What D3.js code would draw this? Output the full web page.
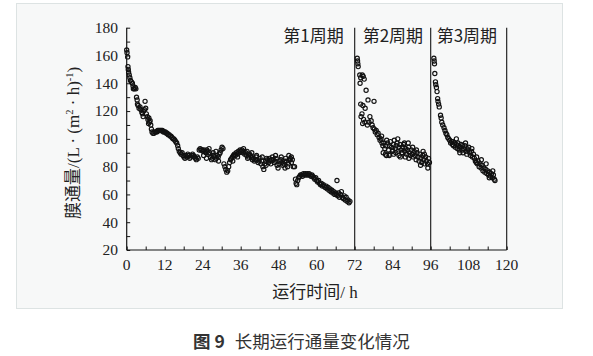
<!DOCTYPE html>
<html>
<head>
<meta charset="utf-8">
<script src="https://cdn.jsdelivr.net/npm/d3@7"></script>
<style>
  html, body { margin: 0; padding: 0; background: #ffffff; }
  svg { display: block; }
</style>
</head>
<body>
<svg id="chart" width="593" height="356"></svg>
<script>
// ---------------- DATA ----------------
const xTicks = [0, 12, 24, 36, 48, 60, 72, 84, 96, 108, 120];
const yTicks = [20, 40, 60, 80, 100, 120, 140, 160, 180];
const cycleBounds = [72, 96, 120];
const cycleLabels = ["第1周期", "第2周期", "第3周期"];

// Cycle 1 (h, flux)
const hours1 = [0.0,0.1,0.3,0.4,0.5,0.6,0.8,1.0,1.2,1.5,1.8,2.1,2.4,2.7,2.9,3.1,3.3,3.6,3.9,4.2,4.5,4.8,5.0,5.3,5.6,5.8,6.0,6.2,6.5,6.7,7.0,7.2,7.4,7.6,7.8,8.0,8.3,8.6,8.9,9.2,9.5,9.8,10.1,10.4,10.7,11.0,11.3,11.6,11.9,12.2,12.5,12.8,13.1,13.4,13.7,14.0,14.3,14.6,14.9,15.2,15.5,15.8,16.1,16.3,16.6,16.9,17.2,17.5,17.8,18.1,18.4,18.7,19.0,19.3,19.6,19.9,20.2,20.5,20.8,21.1,21.4,21.7,22.0,22.3,22.6,22.9,23.2,23.5,23.8,24.1,24.4,24.7,25.0,25.3,25.6,25.9,26.2,26.5,26.8,27.1,27.4,27.7,28.0,28.3,28.6,28.9,29.2,29.5,29.8,30.1,30.4,30.7,31.0,31.3,31.6,31.9,32.2,32.5,32.8,33.1,33.4,33.7,34.0,34.3,34.6,34.9,35.2,35.5,35.8,36.1,36.4,36.7,37.0,37.3,37.6,37.9,38.2,38.5,38.8,39.1,39.4,39.7,40.0,40.3,40.6,40.9,41.2,41.5,41.8,42.1,42.4,42.7,43.0,43.3,43.6,43.9,44.2,44.5,44.8,45.1,45.4,45.7,46.0,46.3,46.6,46.9,47.2,47.5,47.8,48.1,48.4,48.7,49.0,49.3,49.6,49.9,50.2,50.5,50.8,51.1,51.4,51.7,52.0,52.3,52.6,53.0,53.3,53.5,53.7,54.0,54.3,54.6,54.9,55.2,55.5,55.8,56.1,56.4,56.7,57.0,57.3,57.6,57.9,58.2,58.5,58.8,59.1,59.4,59.7,60.0,60.3,60.6,60.9,61.2,61.5,61.8,62.1,62.4,62.7,63.0,63.3,63.6,63.9,64.2,64.5,64.8,65.1,65.4,65.7,66.0,66.3,66.4,66.6,66.9,67.2,67.5,67.8,68.1,68.4,68.7,69.0,69.3,69.6,69.9,70.2,70.5,
  24.3,25.2,26.0,27.3,28.2,29.0,33.5,35.0,36.9,38.0,39.5,41.0,42.8,44.0,45.5,47.0,48.8,50.0,51.2,52.0,5.2,6.9,3.4,2.0];
const flux1 = [164,162,159,152,150,148,146,144,142,141,140,136,136,137,136,130,128,124,122,123,121,119,118,120,121,127,122,118,116,114,115,112,113,110,107,105,104,104,105,105,105,106,106,106,106,106,106,105,105,105,104,104,103,103,102,102,101,100,100,99,98,97,95,93,91,90,89,90,88,87,86,88,87,89,88,86,87,88,89,88,87,86,85,87,86,92,93,92,92,91,92,91,90,92,91,89,90,87,85,86,88,87,85,86,88,87,89,90,92,94,93,82,80,78,76,77,80,83,85,86,87,88,89,88,90,89,91,90,92,91,92,90,91,89,90,88,86,87,89,88,87,85,86,84,85,87,85,83,84,86,82,84,80,78,82,84,86,85,83,86,84,85,87,85,83,84,86,81,79,82,84,85,83,81,82,84,86,84,80,82,85,86,87,85,80,80,71,68,67,70,72,73,74,74,73,75,74,75,74,75,74,75,74,73,74,73,72,71,72,70,69,70,68,67,68,66,67,66,65,66,64,65,63,64,62,63,61,62,60,61,60,70,59,61,58,60,62,58,57,59,56,58,55,56,54,55,
  88,86,93,90,91,84,84,87,93,91,90,88,87,81,82,88,87,79,88,83,116,111,125,138];

// Cycle 2
const hours2 = [72.8,72.9,73.0,73.1,73.6,73.9,74.4,74.7,75.0,73.7,75.6,76.2,78.1,73.9,74.6,75.3,74.3,74.0,74.8,75.2,74.5,76.8,77.2,77.5,77.8,76.0,76.5,78.2,78.5,78.8,79.1,79.4,79.7,80.0,80.3,80.6,80.9,81.2,81.5,81.8,82.1,82.4,82.7,83.0,83.3,83.6,83.9,84.2,84.5,84.8,85.1,85.4,85.7,86.0,86.3,86.6,86.9,87.2,87.5,87.8,88.1,88.4,88.7,89.0,89.3,89.6,89.9,90.2,90.5,90.8,91.1,91.4,91.7,92.0,92.3,92.6,92.9,93.2,93.5,93.8,94.1,94.4,94.7,95.0,95.3,95.6,81.0,82.0,83.0,84.0,85.0,86.0,87.0,88.0,
  80.5,81.7,82.9,84.3,85.6,86.4,87.7,89.1,90.3,91.5,92.8,94.0,95.1,93.6,88.9];
const flux2 = [158,156,154,152,146,144,146,145,143,140,135,128,127,125,124,122,118,116,114,112,111,116,113,110,108,110,112,107,105,106,103,104,101,99,100,97,95,97,93,95,99,97,92,95,98,94,91,96,99,93,95,97,91,94,96,92,90,94,96,91,93,89,92,94,90,88,92,89,87,91,88,85,90,87,84,89,86,83,88,85,82,87,84,82,86,83,90,88,89,92,90,88,90,87,
  102,89,88,89,100,87,97,86,94,92,81,89,79,91,97];

// Cycle 3
const hours3 = [97.0,97.1,97.2,97.3,97.5,97.6,97.8,98.0,98.2,98.3,98.5,98.7,99.1,99.3,99.5,99.8,100.2,100.5,100.8,101.1,101.4,101.7,102.0,102.3,102.6,102.9,103.2,103.5,103.8,104.1,104.1,104.4,104.7,105.0,105.3,105.6,105.9,106.2,106.5,106.8,107.1,107.4,107.7,108.0,108.3,108.6,108.9,109.2,109.5,109.8,110.1,110.4,110.7,111.0,111.3,111.6,111.9,112.2,112.5,112.8,113.1,113.4,113.7,114.0,114.3,114.6,114.9,115.2,115.5,115.8,116.1,116.3,103.0,104.6,106.0,107.5,
  105.2,107.0,109.0,110.5,112.0,113.5,114.5,115.6];
const flux3 = [158,156,154,147,141,139,137,134,129,127,125,123,117,115,112,110,108,106,104,103,101,100,99,97,98,96,95,97,94,100,96,93,95,92,94,96,92,90,93,95,91,89,92,94,90,88,91,87,89,86,84,83,82,84,80,82,79,81,77,79,76,78,75,77,74,76,73,75,72,74,71,70,98,97,95,93,
  90,97,93,87,85,82,72,77];

// ---------------- DRAW ----------------
const svg = d3.select("#chart");
const serif = "'Liberation Serif','Times New Roman',serif";
const cjk = "'Noto Sans CJK SC','Noto Sans',sans-serif";

svg.append("rect").attr("x", 0).attr("y", 0).attr("width", 593).attr("height", 356).attr("fill", "#ffffff");
svg.append("rect").attr("x", 16.5).attr("y", 3.5).attr("width", 546).attr("height", 305)
  .attr("fill", "#f7f8f8").attr("stroke", "#dde3e3").attr("stroke-width", 1);

const x = d3.scaleLinear().domain([0, 120]).range([126.7, 506.7]);
const y = d3.scaleLinear().domain([20, 180]).range([250, 27.7]);

const ink = "#151515";

// Left axis (ticks inward)
const yAxis = d3.axisLeft(y).tickValues(d3.range(20, 181, 10)).tickSize(-3.5).tickFormat(() => "");
const gy = svg.append("g").attr("transform", `translate(${x(0)},0)`).call(yAxis);
gy.select(".domain").remove();
gy.selectAll(".tick line").attr("stroke", ink).attr("stroke-width", 1);
svg.append("line").attr("x1", x(0)).attr("x2", x(0)).attr("y1", y(180)).attr("y2", y(20))
  .attr("stroke", ink).attr("stroke-width", 1.2);

// y tick labels
svg.append("g").selectAll("text").data(yTicks).join("text")
  .attr("x", 118).attr("y", d => y(d)).attr("dy", "0.35em")
  .attr("text-anchor", "end").attr("font-family", serif).attr("font-size", 15.5)
  .attr("fill", "#222").text(d => d);

// Bottom axis (ticks inward)
const xAxis = d3.axisBottom(x).tickValues(d3.range(0, 121, 6)).tickSize(-3.5).tickFormat(() => "");
const gx = svg.append("g").attr("transform", `translate(0,${y(20)})`).call(xAxis);
gx.select(".domain").remove();
gx.selectAll(".tick line").attr("stroke", ink).attr("stroke-width", 1);
svg.append("line").attr("x1", x(0)).attr("x2", x(120)).attr("y1", y(20)).attr("y2", y(20))
  .attr("stroke", ink).attr("stroke-width", 1.2);

svg.append("g").selectAll("text").data(xTicks).join("text")
  .attr("x", d => x(d)).attr("y", 270)
  .attr("text-anchor", "middle").attr("font-family", serif).attr("font-size", 15.5)
  .attr("fill", "#222").text(d => d);

// Cycle separators
svg.append("g").selectAll("line").data(cycleBounds).join("line")
  .attr("x1", d => x(d)).attr("x2", d => x(d)).attr("y1", y(180)).attr("y2", y(20))
  .attr("stroke", ink).attr("stroke-width", 1.1);

// Cycle labels
const labelX = [
  { t: cycleLabels[0], x: x(72) - 11, anchor: "end" },
  { t: cycleLabels[1], x: x(72) + 8, anchor: "start" },
  { t: cycleLabels[2], x: x(96) + 6, anchor: "start" }
];
svg.append("g").selectAll("text").data(labelX).join("text")
  .attr("x", d => d.x).attr("y", 42).attr("text-anchor", d => d.anchor)
  .attr("font-family", cjk).attr("font-size", 17).attr("fill", "#222").text(d => d.t);

// Points
const pts = [];
[[hours1, flux1], [hours2, flux2], [hours3, flux3]].forEach(([h, f]) => {
  h.forEach((v, i) => pts.push([v, f[i]]));
});
svg.append("g").selectAll("circle").data(pts).join("circle")
  .attr("cx", d => x(d[0])).attr("cy", d => y(d[1])).attr("r", 2.1)
  .attr("fill", "none").attr("stroke", "#111").attr("stroke-width", 1.15);

// Y axis title
const yt = svg.append("text")
  .attr("transform", `translate(79,${(y(180) + y(20)) / 2 + 4}) rotate(-90)`)
  .attr("text-anchor", "middle").attr("font-size", 17).attr("fill", "#222");
yt.append("tspan").attr("font-family", cjk).text("膜通量");
yt.append("tspan").attr("font-family", serif).text("/(L · (m");
yt.append("tspan").attr("font-family", serif).attr("font-size", 10.5).attr("dy", -6).text("2");
yt.append("tspan").attr("font-family", serif).attr("dy", 6).text(" · h)");
yt.append("tspan").attr("font-family", serif).attr("font-size", 10.5).attr("dy", -6).text("-1");
yt.append("tspan").attr("font-family", serif).attr("dy", 6).text(")");

// X axis title
const xt = svg.append("text").attr("x", 315).attr("y", 298).attr("text-anchor", "middle")
  .attr("font-size", 17).attr("fill", "#222");
xt.append("tspan").attr("font-family", cjk).text("运行时间");
xt.append("tspan").attr("font-family", serif).text("/ h");

// Caption
const cap = svg.append("text").attr("x", 193).attr("y", 348).attr("font-family", cjk)
  .attr("font-size", 17.5).attr("fill", "#333");
cap.append("tspan").attr("font-weight", "bold").text("图 9");
cap.append("tspan").attr("dx", 10).text("长期运行通量变化情况");
</script>
</body>
</html>
